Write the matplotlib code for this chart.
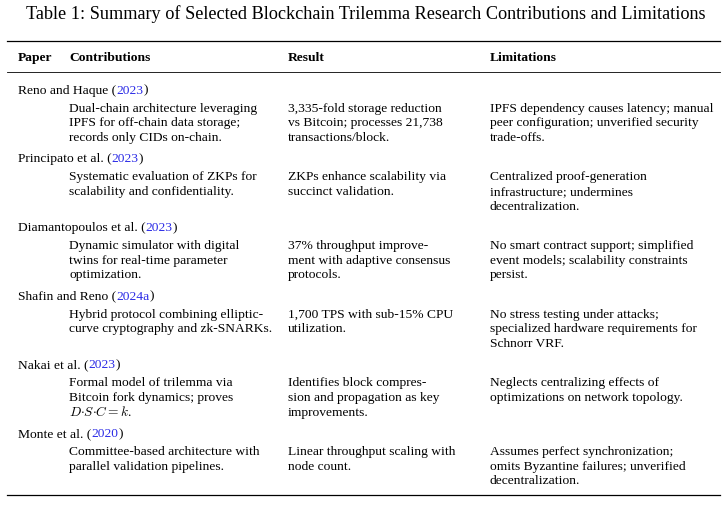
import matplotlib
matplotlib.use("Agg")
import matplotlib.pyplot as plt

title = "Table 1: Summary of Selected Blockchain Trilemma Research Contributions and Limitations"
headers = ["Paper", "Contributions", "Result", "Limitations"]

papers = ["Reno and Haque", "Principato et al.", "Diamantopoulos et al.",
          "Shafin and Reno", "Nakai et al.", "Monte et al."]
years = ["2023", "2023", "2023", "2024a", "2023", "2020"]

contributions = [
    ["Dual-chain architecture leveraging", "IPFS for off-chain data storage;", "records only CIDs on-chain."],
    ["Systematic evaluation of ZKPs for", "scalability and confidentiality."],
    ["Dynamic simulator with digital", "twins for real-time parameter", "optimization."],
    ["Hybrid protocol combining elliptic-", "curve cryptography and zk-SNARKs."],
    ["Formal model of trilemma via", "Bitcoin fork dynamics; proves", r"$D{\cdot}S{\cdot}C = k$."],
    ["Committee-based architecture with", "parallel validation pipelines."],
]
results = [
    ["3,335-fold storage reduction", "vs Bitcoin; processes 21,738", "transactions/block."],
    ["ZKPs enhance scalability via", "succinct validation."],
    ["37% throughput improve-", "ment with adaptive consensus", "protocols."],
    ["1,700 TPS with sub-15% CPU", "utilization."],
    ["Identifies block compres-", "sion and propagation as key", "improvements."],
    ["Linear throughput scaling with", "node count."],
]
limitations = [
    ["IPFS dependency causes latency; manual", "peer configuration; unverified security", "trade-offs."],
    ["Centralized proof-generation", "infrastructure; undermines", "decentralization."],
    ["No smart contract support; simplified", "event models; scalability constraints", "persist."],
    ["No stress testing under attacks;", "specialized hardware requirements for", "Schnorr VRF."],
    ["Neglects centralizing effects of", "optimizations on network topology."],
    ["Assumes perfect synchronization;", "omits Byzantine failures; unverified", "decentralization."],
]

plt.rcParams["font.family"] = ["Liberation Serif", "DejaVu Serif"]
plt.rcParams["mathtext.fontset"] = "cm"

blue = "#2a2ae6"

# figure in pixel coordinates
fig = plt.figure(figsize=(7.26, 5.08), dpi=100)
ax = fig.add_axes([0, 0, 1, 1])
ax.set_xlim(0, 726)
ax.set_ylim(508, 0)
ax.axis("off")
renderer = fig.canvas.get_renderer()


def width(text, fs, weight="normal"):
    t = ax.text(0, 0, text, fontsize=fs, fontweight=weight)
    w = t.get_window_extent(renderer).width
    t.remove()
    return w


body_fs = 10 * 187 / width("Dual-chain architecture leveraging", 10)
title_fs = 10 * 679 / width(title, 10)

# column x positions
col_x = [18, 69, 288, 490]

ax.text(366, 14, title, fontsize=title_fs, ha="center", va="center")

# rules
ax.plot([7, 720], [40.7, 40.7], color="black", lw=0.9)
ax.plot([7, 720], [72, 72], color="black", lw=0.6)
ax.plot([7, 720], [495, 495], color="black", lw=0.9)

for x, h in zip(col_x, headers):
    ax.text(x, 58, h, fontsize=body_fs, fontweight="bold", va="center")


def rich(x, y, parts):
    # place each piece where it would sit inside the joined string
    done = ""
    for s, c in parts:
        off = width(done + s, body_fs) - width(s, body_fs) if done else 0
        ax.text(x + off, y, s, fontsize=body_fs, color=c, va="baseline")
        done += s


line_h = 14.6
y = 90
for i in range(len(papers)):
    rich(col_x[0], y + 3.6, [(papers[i] + " (", "black"), (years[i], blue), (")", "black")])
    cols = [contributions[i], results[i], limitations[i]]
    for x, lines in zip(col_x[1:], cols):
        for j, s in enumerate(lines):
            ax.text(x, y + 18 + j * line_h + 3.6, s, fontsize=body_fs, va="baseline")
    n = max(len(c) for c in cols)
    y = y + 18 + (n - 1) * line_h + 21.5

fig.savefig("out.png", dpi=100)
